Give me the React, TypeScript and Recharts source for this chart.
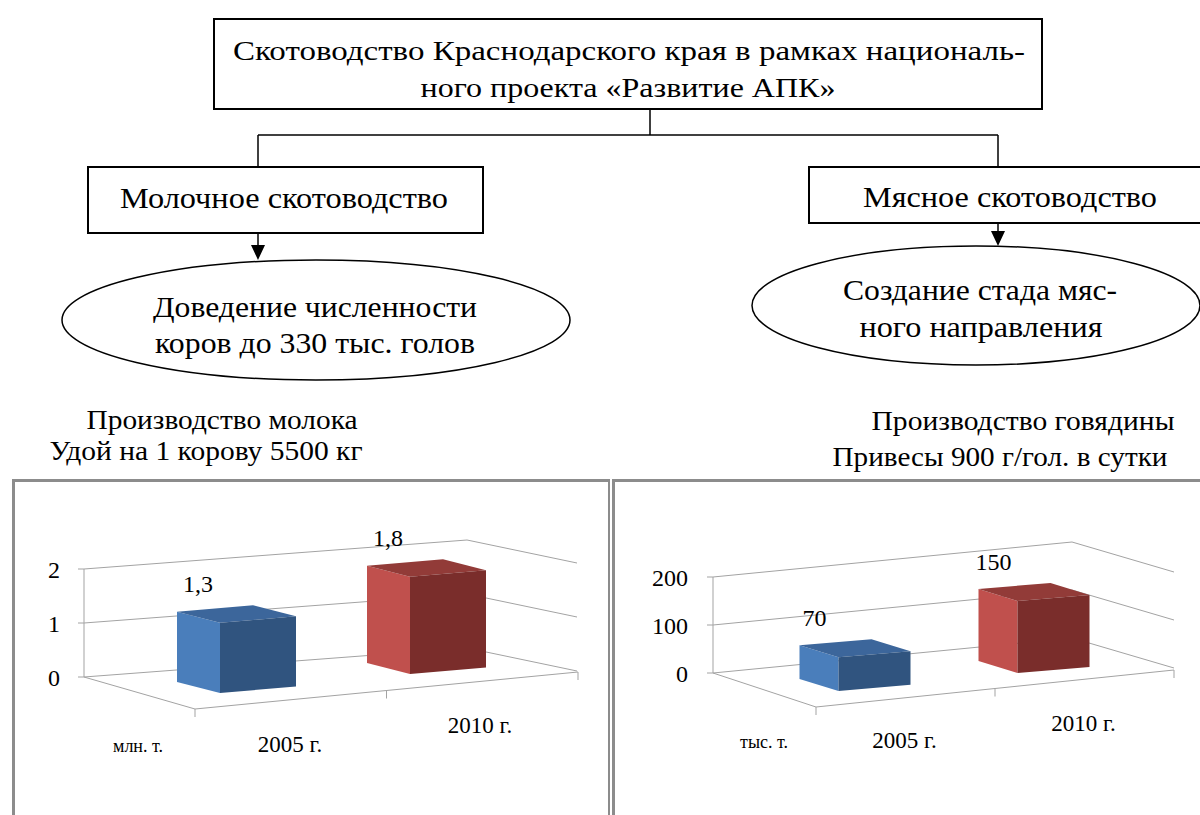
import React from "react";
import { BarChart, Bar, XAxis, YAxis, CartesianGrid, LabelList } from "recharts";

const years = ["2005 г.", "2010 г."];
const milkValues = [1.3, 1.8];
const beefValues = [70, 150];
const milkTicks = [0, 1, 2];
const beefTicks = [0, 100, 200];
const milkUnit = "млн. т.";
const beefUnit = "тыс. т.";

const SERIF = "Liberation Serif, Times New Roman, serif";
const GRID = "#a3a3a3";
const X_AXIS_H = 30;

// each column is a box: light side face, top, darker front
const FACES = [
  { side: "#4a7ebb", top: "#3c669b", front: "#30547f" },
  { side: "#c0504d", top: "#923b38", front: "#7a2d2b" },
];

type Frame = {
  left: number;
  top: number;
  width: number;
  height: number;
  margin: { top: number; right: number; bottom: number; left: number };
  axisW: number;
  tickMargin: number;
  padding: { left: number; right: number };
  barSize: number;
  wall: [number, number];
  side: [number, number];
  floorFront: [number, number];
  floorSpan: [number, number];
  shift0: number;
  depth: [number, number];
  labelDx: number;
  labelDy: number;
  unitDx: number;
};

const milkFrame: Frame = {
  left: 0, top: 480, width: 610, height: 335,
  margin: { top: 89, right: 32, bottom: 108, left: 0 },
  axisW: 84, tickMargin: 18, padding: { left: 79, right: 35 }, barSize: 76,
  wall: [383, -29], side: [110, 23], floorFront: [111, 32], floorSpan: [383, -37],
  shift0: 29.6, depth: [-43, -11], labelDx: 32, labelDy: 63, unitDx: -120,
};

const beefFrame: Frame = {
  left: 605, top: 480, width: 595, height: 335,
  margin: { top: 97, right: 26, bottom: 112, left: 0 },
  axisW: 108, tickMargin: 19, padding: { left: 71.5, right: 31.5 }, barSize: 72,
  wall: [359, -35], side: [102, 30], floorFront: [103, 34], floorSpan: [358, -37],
  shift0: 30.5, depth: [-39, -12], labelDx: 30.5, labelDy: 61, unitDx: -110,
};

const plotLeft = (f: Frame) => f.margin.left + f.axisW;
const plotBottom = (f: Frame) => f.height - f.margin.bottom - X_AXIS_H;
// floor perspective: things further right sit higher
const shift = (f: Frame, x: number) => f.shift0 - 0.1 * (x - plotLeft(f));

function Box3D(props: any) {
  const { x, y, width: w, height: h, index, frame } = props;
  if (w == null || h == null) return null;
  const s = shift(frame, x);
  const yt = y + s;
  const yb = y + h + s;
  const k = 0.085 * w;
  const [dx, dy] = frame.depth;
  const c = FACES[index % FACES.length];
  return (
    <g>
      <polygon points={`${x},${yt} ${x},${yb} ${x + dx},${yb + dy} ${x + dx},${yt + dy}`} fill={c.side} />
      <polygon points={`${x},${yt} ${x + w},${yt - k} ${x + w + dx},${yt - k + dy} ${x + dx},${yt + dy}`} fill={c.top} />
      <polygon points={`${x},${yt} ${x + w},${yt - k} ${x + w},${yb - k} ${x},${yb}`} fill={c.front} />
    </g>
  );
}

const renderWall = (f: Frame) => (p: any) => {
  const x0 = Number(p.x1);
  const y = Number(p.y1);
  const [wx, wy] = f.wall;
  const [sx, sy] = f.side;
  const floor = Math.abs(y - plotBottom(f)) < 1;
  const flx = x0 + f.floorFront[0];
  const fly = y + f.floorFront[1];
  const frx = flx + f.floorSpan[0];
  const fry = fly + f.floorSpan[1];
  return (
    <g key={`wall-${p.index}`} stroke={GRID} strokeWidth={1} fill="none">
      <polyline points={`${x0},${y} ${x0 + wx},${y + wy} ${x0 + wx + sx},${y + wy + sy}`} />
      {floor && (
        <>
          <polyline points={`${x0},${y} ${flx},${fly} ${frx},${fry}`} />
          {[0, 0.5, 1].map((t) => {
            const tx = flx + t * f.floorSpan[0];
            const ty = fly + t * f.floorSpan[1];
            return <line key={t} x1={tx} y1={ty} x2={tx} y2={ty + 8} />;
          })}
        </>
      )}
    </g>
  );
};

const renderValue = (f: Frame) => (p: any) => {
  const x = Number(p.x);
  const w = Number(p.width);
  const y = Number(p.y);
  return (
    <text
      x={x + w / 2 - 60}
      y={y + shift(f, x) - 31}
      textAnchor="middle"
      fontFamily={SERIF}
      fontSize={24}
      fill="#000"
    >
      {String(p.value).replace(".", ",")}
    </text>
  );
};

const renderYear = (f: Frame, unit: string) => (p: any) => {
  const x = Number(p.x);
  const by = plotBottom(f) + shift(f, x) + f.labelDy;
  return (
    <g>
      <text x={x + f.labelDx} y={by} textAnchor="middle" fontFamily={SERIF} fontSize={23} fill="#000">
        {p.payload.value}
      </text>
      {p.index === 0 && (
        <text x={x + f.unitDx} y={by} textAnchor="middle" fontFamily={SERIF} fontSize={18} fill="#000">
          {unit}
        </text>
      )}
    </g>
  );
};

function Column3D({ frame, values, ticks, unit }: { frame: Frame; values: number[]; ticks: number[]; unit: string }) {
  const data = years.map((year, i) => ({ year, value: values[i] }));
  return (
    <div style={{ position: "absolute", left: frame.left, top: frame.top }}>
      <BarChart width={frame.width} height={frame.height} data={data} margin={frame.margin}>
        <CartesianGrid vertical={false} horizontal={renderWall(frame)} />
        <XAxis
          dataKey="year"
          height={X_AXIS_H}
          padding={frame.padding}
          axisLine={false}
          tickLine={false}
          interval={0}
          tick={renderYear(frame, unit)}
        />
        <YAxis
          width={frame.axisW}
          domain={[ticks[0], ticks[ticks.length - 1]]}
          ticks={ticks}
          tickSize={6}
          tickMargin={frame.tickMargin}
          axisLine={{ stroke: GRID }}
          tickLine={{ stroke: GRID }}
          tick={{ fill: "#000", fontSize: 24, fontFamily: SERIF }}
        />
        <Bar
          dataKey="value"
          barSize={frame.barSize}
          isAnimationActive={false}
          shape={(p: any) => <Box3D {...p} frame={frame} />}
        >
          <LabelList dataKey="value" content={renderValue(frame)} />
        </Bar>
      </BarChart>
    </div>
  );
}

function T({ x, y, w, size = 30, children }: { x: number; y: number; w: number; size?: number; children: string }) {
  return (
    <text x={x} y={y} textAnchor="middle" fontSize={size} textLength={w} lengthAdjust="spacingAndGlyphs" fill="#000">
      {children}
    </text>
  );
}

function Scheme() {
  return (
    <svg width={1200} height={480} style={{ position: "absolute", left: 0, top: 0 }} fontFamily={SERIF}>
      <g fill="none" stroke="#000" strokeWidth={2}>
        <rect x={214} y={19} width={828} height={90} />
        <rect x={88} y={167} width={395} height={66} />
        <rect x={809} y={167} width={400} height={56} />
      </g>
      <g stroke="#000" strokeWidth={1.5} fill="none">
        <line x1={650} y1={109} x2={650} y2={135} />
        <line x1={258} y1={135} x2={998} y2={135} />
        <line x1={258} y1={135} x2={258} y2={167} />
        <line x1={998} y1={135} x2={998} y2={167} />
        <line x1={258} y1={233} x2={258} y2={247} />
        <line x1={998} y1={223} x2={998} y2={233} />
        <ellipse cx={316} cy={320} rx={254} ry={60} />
        <ellipse cx={976} cy={305.5} rx={224} ry={59.5} />
      </g>
      <polygon points="251,245 265,245 258,260" fill="#000" />
      <polygon points="991,231 1005,231 998,246" fill="#000" />

      <T x={629} y={60} w={792} size={28}>Скотоводство Краснодарского края в рамках националь-</T>
      <T x={628} y={97} w={415} size={28}>ного проекта «Развитие АПК»</T>
      <T x={284} y={208} w={328}>Молочное скотоводство</T>
      <T x={1010} y={207} w={294}>Мясное скотоводство</T>
      <T x={315} y={317} w={324}>Доведение численности</T>
      <T x={315} y={353} w={320}>коров до 330 тыс. голов</T>
      <T x={980} y={300} w={274}>Создание стада мяс-</T>
      <T x={981} y={337} w={243}>ного направления</T>

      <T x={222} y={429} w={271} size={27}>Производство молока</T>
      <T x={206} y={460} w={313} size={27}>Удой на 1 корову 5500 кг</T>
      <T x={1023} y={430} w={303} size={27}>Производство говядины</T>
      <T x={1000} y={466} w={335} size={27}>Привесы 900 г/гол. в сутки</T>
    </svg>
  );
}

export default function App() {
  return (
    <div
      style={{
        position: "absolute",
        left: 0,
        top: 0,
        width: 1200,
        height: 815,
        overflow: "hidden",
        background: "#fff",
        fontFamily: SERIF,
      }}
    >
      <Scheme />
      <div
        style={{
          position: "absolute",
          left: 12,
          top: 479,
          width: 593,
          height: 340,
          borderTop: "3px solid #8c8c8c",
          borderLeft: "3px solid #8c8c8c",
          borderRight: "2px solid #8c8c8c",
        }}
      />
      <div
        style={{
          position: "absolute",
          left: 612,
          top: 479,
          width: 600,
          height: 340,
          borderTop: "3px solid #8c8c8c",
          borderLeft: "3px solid #8c8c8c",
        }}
      />
      <Column3D frame={milkFrame} values={milkValues} ticks={milkTicks} unit={milkUnit} />
      <Column3D frame={beefFrame} values={beefValues} ticks={beefTicks} unit={beefUnit} />
    </div>
  );
}
